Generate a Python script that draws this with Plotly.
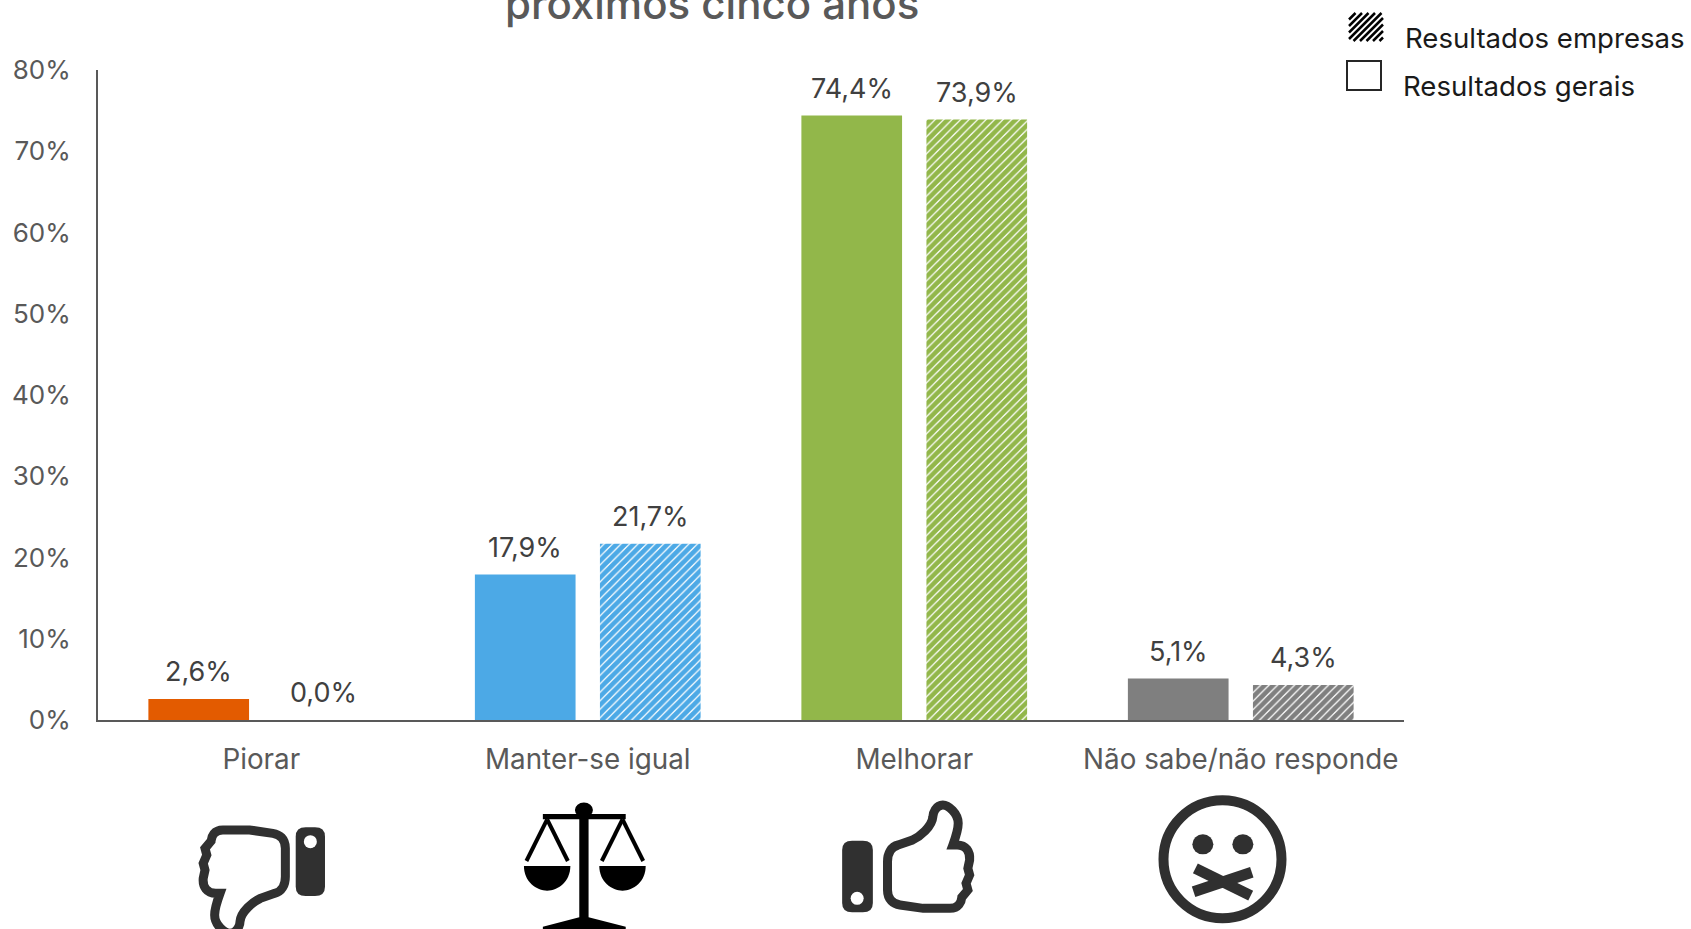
import plotly.graph_objects as go

categories = ["Piorar", "Manter-se igual", "Melhorar", "Não sabe/não responde"]
resultados_gerais = [2.6, 17.9, 74.4, 5.1]
resultados_empresas = [0.0, 21.7, 73.9, 4.3]
bar_colors = ["#E35B00", "#4CA9E6", "#92B74A", "#7F7F7F"]
y_ticks = [0, 10, 20, 30, 40, 50, 60, 70, 80]
y_tick_labels = ["0%", "10%", "20%", "30%", "40%", "50%", "60%", "70%", "80%"]

W, H = 1691, 929
L, R, T, B = 98, 1404, 70, 720
FONT = "Inter"
DARK = "#303030"
BARGAP, GROUPGAP = 0.234, 0.195


def X(x):
    return (x - L) / (R - L)


def Y(y):
    return (B - y) / (B - T)


def path(cmds):
    out = []
    for c in cmds:
        out.append(c[0] + " " + " ".join(f"{X(p[0]):.5f},{Y(p[1]):.5f}" for p in c[1:]))
    return " ".join(out) + " Z"


def z4(x, y):
    return (150 + x / 2.8, 780 + y / 3)


def z5(x, y):
    return (800 + x / 2.8, 780 + y / 3)


shapes = []


def add_path(cmds, fill=None, line=None, width=0):
    shapes.append(dict(type="path", xref="paper", yref="paper", path=path(cmds),
                       fillcolor=fill or "rgba(0,0,0,0)",
                       line=dict(color=line or "rgba(0,0,0,0)", width=width)))


def add_ell(c, rx, ry, fill=None, line=None, width=0):
    shapes.append(dict(type="circle", xref="paper", yref="paper",
                       x0=X(c[0] - rx), x1=X(c[0] + rx), y0=Y(c[1] + ry), y1=Y(c[1] - ry),
                       fillcolor=fill or "rgba(0,0,0,0)",
                       line=dict(color=line or "rgba(0,0,0,0)", width=width)))


def add_line(a, b, color, width):
    shapes.append(dict(type="line", xref="paper", yref="paper", x0=X(a[0]), y0=Y(a[1]),
                       x1=X(b[0]), y1=Y(b[1]), line=dict(color=color, width=width)))


# thumb outline (zoom-5 coordinates of the thumbs-up icon)
thumb = [("M", (245, 330)),
         ("C", (245, 360), (262, 372), (280, 375)),
         ("L", (345, 385)), ("L", (420, 385)),
         ("C", (445, 385), (452, 365), (453, 352)),
         ("L", (470, 330)), ("L", (465, 310)), ("L", (475, 285)), ("L", (470, 265)), ("L", (475, 240)),
         ("C", (477, 215), (465, 195), (440, 195)),
         ("L", (428, 195)),
         ("C", (440, 160), (443, 145), (443, 130)),
         ("C", (443, 100), (415, 75), (400, 75)),
         ("C", (380, 75), (372, 100), (372, 110)),
         ("C", (370, 140), (335, 170), (315, 180)),
         ("L", (275, 195)),
         ("C", (255, 200), (245, 220), (245, 245))]

add_path([(c[0], *[z5(*p) for p in c[1:]]) for c in thumb], line=DARK, width=9)
add_path([(c[0], *[z4(624 - p[0], 535 - p[1]) for p in c[1:]]) for c in thumb], line=DARK, width=9)


def rrect(conv, x0, y0, x1, y1, r):
    return [("M", conv(x0 + r, y0)), ("L", conv(x1 - r, y0)),
            ("Q", conv(x1, y0), conv(x1, y0 + r)), ("L", conv(x1, y1 - r)),
            ("Q", conv(x1, y1), conv(x1 - r, y1)), ("L", conv(x0 + r, y1)),
            ("Q", conv(x0, y1), conv(x0, y1 - r)), ("L", conv(x0, y0 + r)),
            ("Q", conv(x0, y0), conv(x0 + r, y0))]


add_path(rrect(z5, 118, 182, 204, 397, 28), fill=DARK)
add_ell(z5(160, 355), 6.5, 6.5, fill="white")
add_path(rrect(z4, 408, 142, 490, 348, 28), fill=DARK)
add_ell(z4(449, 185), 6.5, 6.5, fill="white")

# scales
add_path([("M", z4(1202, 100)), ("L", z4(1228, 100)), ("L", z4(1228, 412)), ("L", z4(1332, 440)),
          ("L", z4(1332, 460)), ("L", z4(1100, 460)), ("L", z4(1100, 440)), ("L", z4(1202, 412))], fill="black")
add_ell(z4(1215, 90), 9, 7.5, fill="black")
add_path([("M", z4(1100, 102)), ("L", z4(1332, 102)), ("L", z4(1332, 118)), ("L", z4(1100, 118))], fill="black")
for cx in (1112, 1323):
    add_line(z4(cx, 118), z4(cx - 58, 243), "black", 4)
    add_line(z4(cx, 118), z4(cx + 58, 243), "black", 4)
    add_path([("M", z4(cx - 65, 258)), ("L", z4(cx + 65, 258)),
              ("C", z4(cx + 65, 305), z4(cx + 30, 332), z4(cx, 332)),
              ("C", z4(cx - 30, 332), z4(cx - 65, 305), z4(cx - 65, 258))], fill="black")

# face
add_ell(z5(1183, 238), 59, 59, line=DARK, width=10)
add_ell(z5(1128, 193), 10.5, 10, fill=DARK)
add_ell(z5(1240, 193), 10.5, 10, fill=DARK)
add_line(z5(1107, 265), z5(1262, 347), DARK, 11)
add_line(z5(1265, 277), z5(1102, 335), DARK, 11)

# legend keys
lx0, ly0, lx1, ly1 = 1349, 13, 1383, 41
c = lx0 + ly0
while c < lx1 + ly1:
    xa = max(lx0, c - ly1)
    xb = min(lx1, c - ly0)
    if xb > xa:
        add_line((xa, c - xa), (xb, c - xb), "black", 2.5)
    c += 6.5
shapes.append(dict(type="rect", xref="paper", yref="paper", x0=X(1347), x1=X(1381), y0=Y(90), y1=Y(61),
                   line=dict(color="#262626", width=2), fillcolor="white"))

annotations = [
    dict(text="próximos cinco anos", x=X(712), y=Y(4), xref="paper", yref="paper", showarrow=False,
         xanchor="center", yanchor="middle", font=dict(family=FONT, size=42, color="#595959", weight=500)),
    dict(text="Resultados empresas", x=X(1403), y=Y(38), xref="paper", yref="paper", showarrow=False,
         xanchor="left", yanchor="middle", font=dict(family=FONT, size=27.6, color="#1a1a1a")),
    dict(text="Resultados gerais", x=X(1401), y=Y(86.5), xref="paper", yref="paper", showarrow=False,
         xanchor="left", yanchor="middle", font=dict(family=FONT, size=27.6, color="#1a1a1a")),
]

# data labels, one per bar, placed through the axes at each bar's group offset
slot = (1 - BARGAP) / 2
for series, off in ((resultados_gerais, -slot / 2), (resultados_empresas, slot / 2)):
    for i, v in enumerate(series):
        annotations.append(dict(text=f"{v:.1f}%".replace(".", ","), x=i + off, y=v, xref="x", yref="y",
                                showarrow=False, xanchor="center", yanchor="bottom", yshift=9,
                                font=dict(family=FONT, size=27, color="#404040")))

fig = go.Figure()
fig.add_bar(name="Resultados gerais", x=categories, y=resultados_gerais,
            marker=dict(color=bar_colors, line=dict(width=0)))
fig.add_bar(name="Resultados empresas", x=categories, y=resultados_empresas,
            marker=dict(color="white", line=dict(width=0),
                        pattern=dict(shape="/", fgcolor=bar_colors, bgcolor="white", size=6, solidity=0.8,
                                     fgopacity=1)))

fig.update_layout(
    width=W, height=H, showlegend=False, barmode="group", bargap=BARGAP, bargroupgap=GROUPGAP,
    paper_bgcolor="white", plot_bgcolor="white", separators=",.",
    margin=dict(l=L, r=W - R, t=T, b=H - B, autoexpand=False),
    shapes=shapes, annotations=annotations, font=dict(family=FONT),
    xaxis=dict(showline=True, linecolor="#595959", linewidth=2, ticks="outside", ticklen=14,
               tickcolor="rgba(0,0,0,0)", showgrid=False, zeroline=False,
               tickfont=dict(family=FONT, size=27.8, color="#595959")),
    yaxis=dict(range=[0, 80], tickvals=y_ticks, ticktext=y_tick_labels, showline=True, linecolor="#595959",
               linewidth=2, showgrid=False, zeroline=False, ticks="outside", ticklen=20,
               tickcolor="rgba(0,0,0,0)", tickfont=dict(family=FONT, size=26, color="#595959")),
)
fig.write_html("out.html", post_script="document.body.style.margin='0';", config=dict(displayModeBar=False))
